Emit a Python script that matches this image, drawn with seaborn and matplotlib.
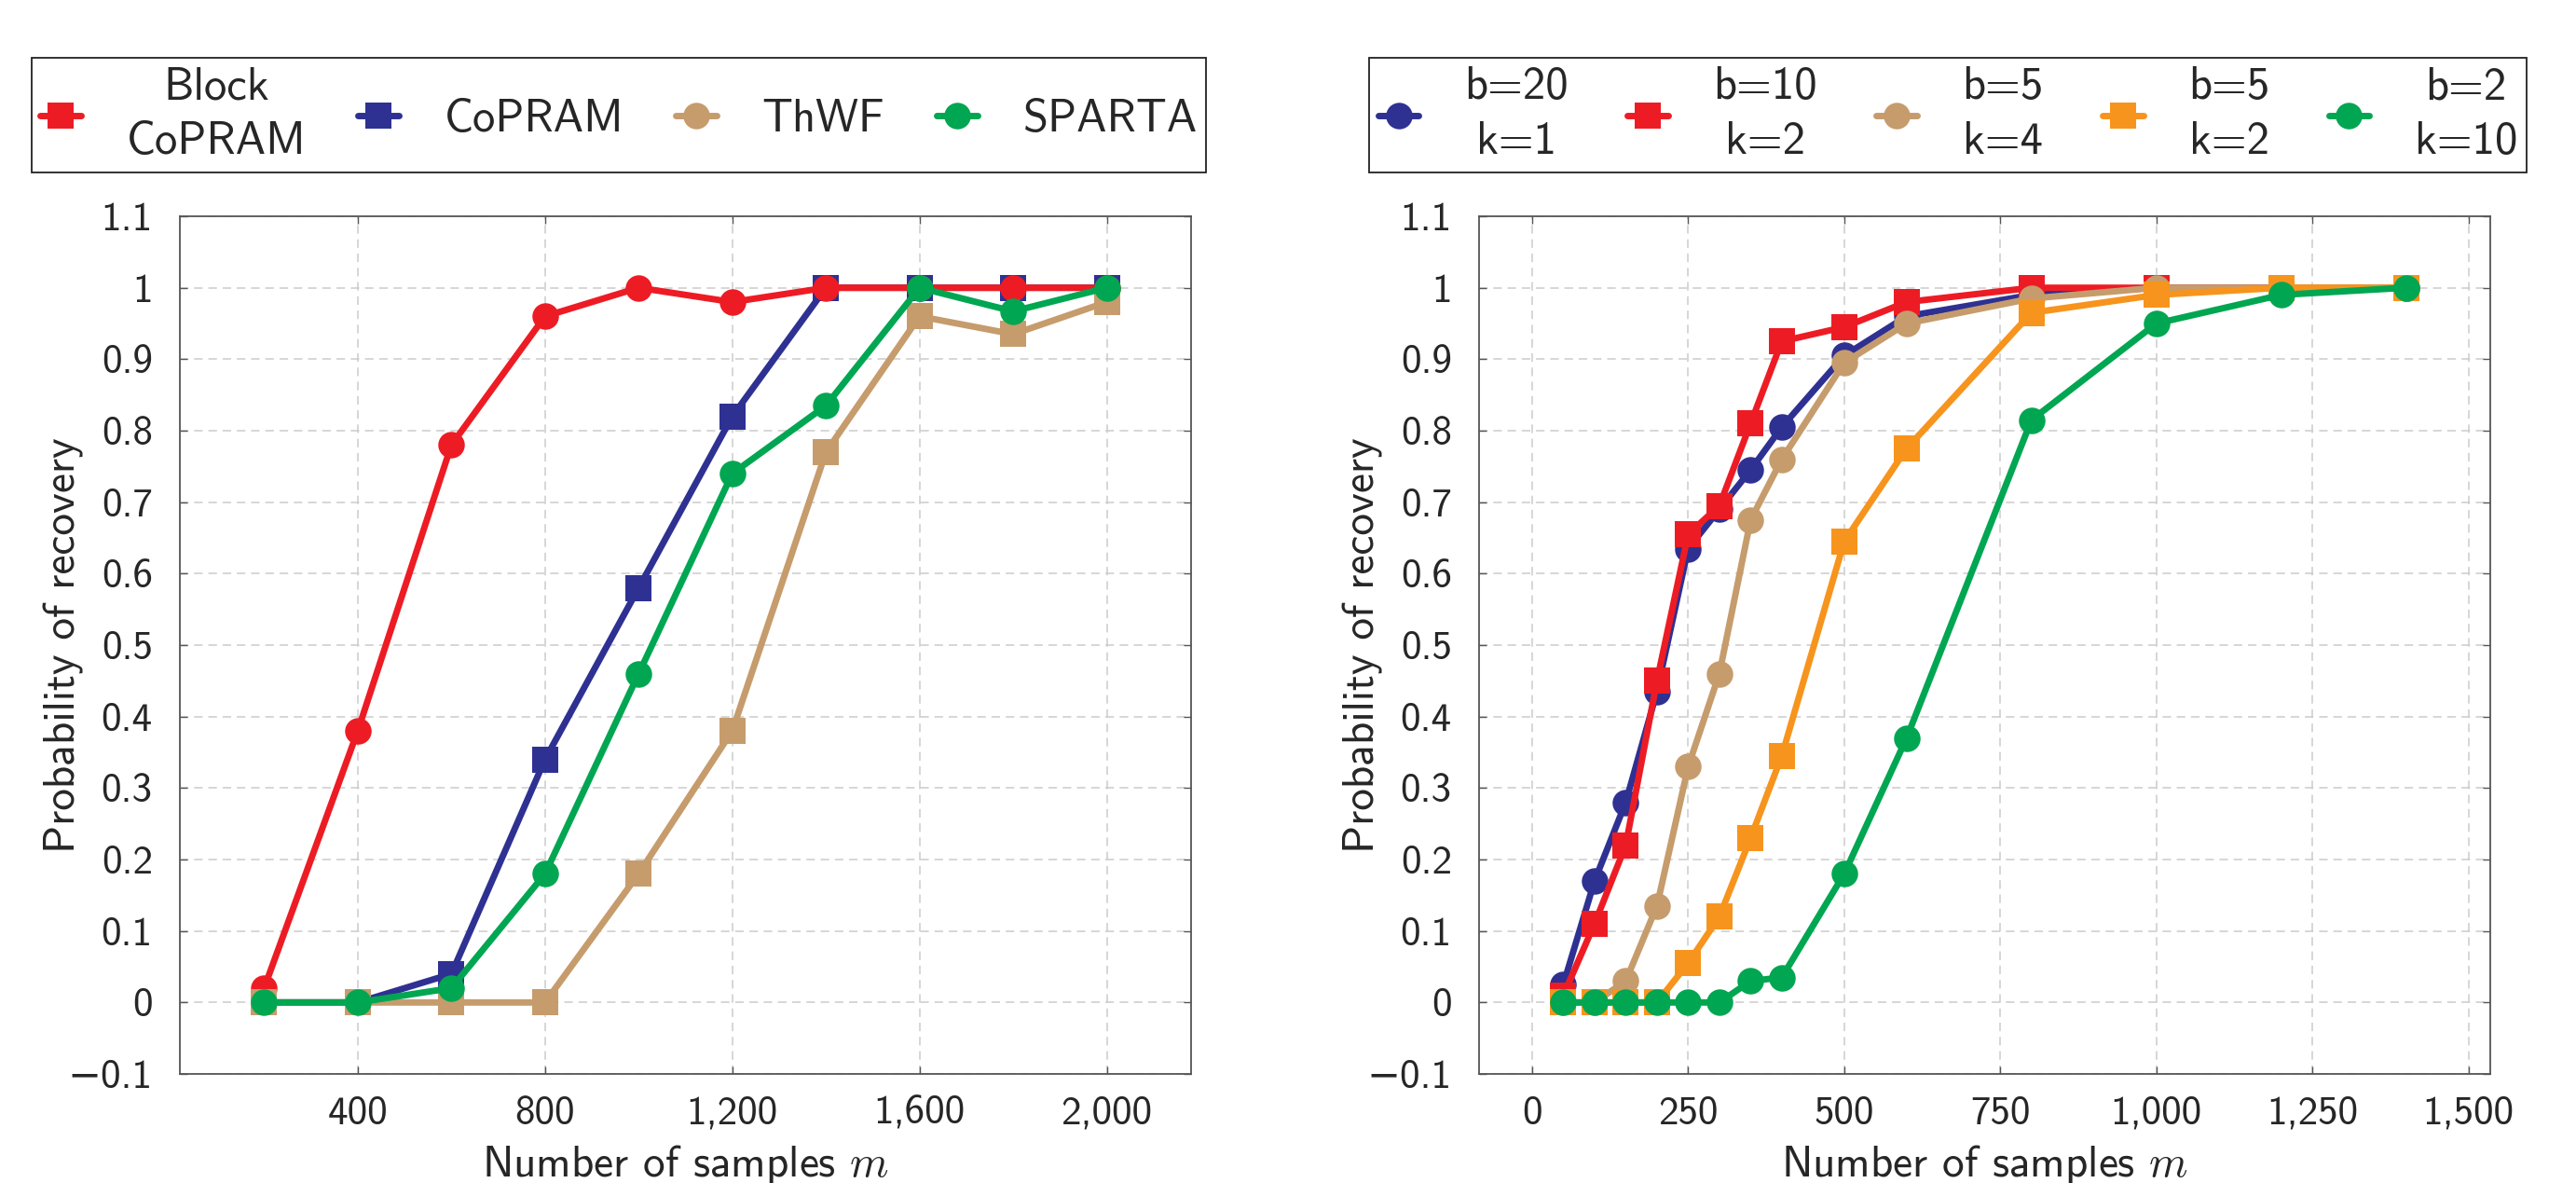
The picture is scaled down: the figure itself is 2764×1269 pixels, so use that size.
import numpy as np
import pandas as pd
import matplotlib
matplotlib.use("Agg")
import matplotlib.pyplot as plt
import matplotlib.ticker as mticker
from matplotlib.lines import Line2D
import seaborn as sns

# ---- data: left panel ----
m_left = [200, 400, 600, 800, 1000, 1200, 1400, 1600, 1800, 2000]
block_copram = [0.02, 0.38, 0.78, 0.96, 1.0, 0.98, 1.0, 1.0, 1.0, 1.0]
copram = [0.0, 0.0, 0.04, 0.34, 0.58, 0.82, 1.0, 1.0, 1.0, 1.0]
thwf = [0.0, 0.0, 0.0, 0.0, 0.18, 0.38, 0.77, 0.96, 0.935, 0.98]
sparta = [0.0, 0.0, 0.02, 0.18, 0.46, 0.74, 0.835, 1.0, 0.967, 1.0]
left_labels = ["Block\nCoPRAM", "CoPRAM", "ThWF", "SPARTA"]
left_xticks = [400, 800, 1200, 1600, 2000]

# ---- data: right panel ----
m_right = [50, 100, 150, 200, 250, 300, 350, 400, 500, 600, 800, 1000, 1200, 1400]
b20_k1 = [0.025, 0.17, 0.28, 0.435, 0.635, 0.69, 0.745, 0.805, 0.905, 0.96, 0.99, 1.0, 1.0, 1.0]
b10_k2 = [0.01, 0.11, 0.22, 0.45, 0.655, 0.695, 0.81, 0.925, 0.945, 0.98, 1.0, 1.0, 1.0, 1.0]
b5_k4 = [0.0, 0.0, 0.03, 0.135, 0.33, 0.46, 0.675, 0.76, 0.895, 0.95, 0.985, 1.0, 1.0, 1.0]
b5_k2 = [0.0, 0.0, 0.0, 0.0, 0.055, 0.12, 0.23, 0.345, 0.645, 0.775, 0.965, 0.99, 1.0, 1.0]
b2_k10 = [0.0, 0.0, 0.0, 0.0, 0.0, 0.0, 0.03, 0.035, 0.18, 0.37, 0.815, 0.95, 0.99, 1.0]
right_labels = ["b=20\nk=1", "b=10\nk=2", "b=5\nk=4", "b=5\nk=2", "b=2\nk=10"]
right_xticks = [0, 250, 500, 750, 1000, 1250, 1500]

yticks = [round(-0.1 + 0.1 * i, 1) for i in range(13)]

RED, BLUE, TAN, ORANGE, GREEN = "#ED1C24", "#2E3192", "#C69C6D", "#F7941D", "#00A651"

sns.set_theme(style="ticks")
plt.rcParams['font.family'] = ['cmss10', 'DejaVu Sans']
plt.rcParams['mathtext.fontset'] = 'cm'
plt.rcParams['axes.unicode_minus'] = False
plt.rcParams['axes.formatter.use_mathtext'] = False

LW, MS = 5, 20.5
W, H = 2764, 1269
AX_BOTTOM, AX_TOP = 1152, 232   # pixel rows of the axes frame

fig = plt.figure(figsize=(W / 100, H / 100), dpi=100)
ax1 = fig.add_axes([193 / W, 1 - AX_BOTTOM / H, 1085 / W, (AX_BOTTOM - AX_TOP) / H])
ax2 = fig.add_axes([1587 / W, 1 - AX_BOTTOM / H, 1085 / W, (AX_BOTTOM - AX_TOP) / H])


def draw(ax, x, y, color, marker):
    sns.lineplot(x=x, y=y, ax=ax, color=color, marker=marker, markersize=MS,
                 linewidth=LW, markeredgewidth=0, errorbar=None)


# draw order follows the overlaps in the reference
draw(ax1, m_left, copram, BLUE, 's')
draw(ax1, m_left, block_copram, RED, 'o')
draw(ax1, m_left, thwf, TAN, 's')
draw(ax1, m_left, sparta, GREEN, 'o')

draw(ax2, m_right, b20_k1, BLUE, 'o')
draw(ax2, m_right, b10_k2, RED, 's')
draw(ax2, m_right, b5_k4, TAN, 'o')
draw(ax2, m_right, b5_k2, ORANGE, 's')
draw(ax2, m_right, b2_k10, GREEN, 'o')


def yfmt(v, _):
    v = round(v, 1)
    if v == 0:
        return "0"
    return f"{v:g}".replace("-", "\u2212")


def xfmt(v, _):
    return f"{int(round(v)):,}"


for ax, xt, xl in [(ax1, left_xticks, (20, 2180)), (ax2, right_xticks, (-85, 1535))]:
    ax.set_xlim(*xl)
    ax.set_ylim(-0.1, 1.1)
    ax.set_xticks(xt)
    ax.set_yticks(yticks)
    ax.xaxis.set_major_formatter(mticker.FuncFormatter(xfmt))
    ax.yaxis.set_major_formatter(mticker.FuncFormatter(yfmt))
    ax.grid(True, color="#cccccc", linestyle=(0, (6, 4)), linewidth=1.1)
    ax.set_axisbelow(True)
    ax.tick_params(axis="both", direction="in", length=6, width=1, color="#555555",
                   top=True, right=True, labelsize=31)
    ax.tick_params(axis="x", pad=17)
    ax.tick_params(axis="y", pad=21)
    for sp in ax.spines.values():
        sp.set_color("#555555")
        sp.set_linewidth(1.3)
    ax.set_xlabel("Number of samples $m$", fontsize=34, va="top")
    ax.set_ylabel("Probability of recovery", fontsize=34)
    ax.xaxis.set_label_coords(0.5, -0.08)
    ax.yaxis.set_label_coords(-0.095, 0.5)


def handles(spec):
    return [Line2D([0], [0], color=c, marker=m, markersize=MS, linewidth=LW,
                   markeredgewidth=0) for c, m in spec]


leg_kw = dict(loc="lower center", bbox_transform=fig.transFigure, frameon=True,
              fancybox=False, framealpha=1, edgecolor="#222222", fontsize=35,
              handlelength=0.9, handletextpad=1.0, borderpad=0.2, borderaxespad=0)

leg1 = ax1.legend(handles(
    [(RED, 's'), (BLUE, 's'), (TAN, 'o'), (GREEN, 'o')]), left_labels,
    ncol=4, columnspacing=1.15, bbox_to_anchor=(664 / W, 1 - 185 / H), **leg_kw)
leg2 = ax2.legend(handles(
    [(BLUE, 'o'), (RED, 's'), (TAN, 'o'), (ORANGE, 's'), (GREEN, 'o')]), right_labels,
    ncol=5, columnspacing=1.3, bbox_to_anchor=(2090 / W, 1 - 185 / H), **leg_kw)
for leg in (leg1, leg2):
    leg.get_frame().set_linewidth(1.3)
    for t in leg.get_texts():
        t.set_multialignment("center")
        t.set_linespacing(1.4)

fig.savefig("out.png", dpi=100)
